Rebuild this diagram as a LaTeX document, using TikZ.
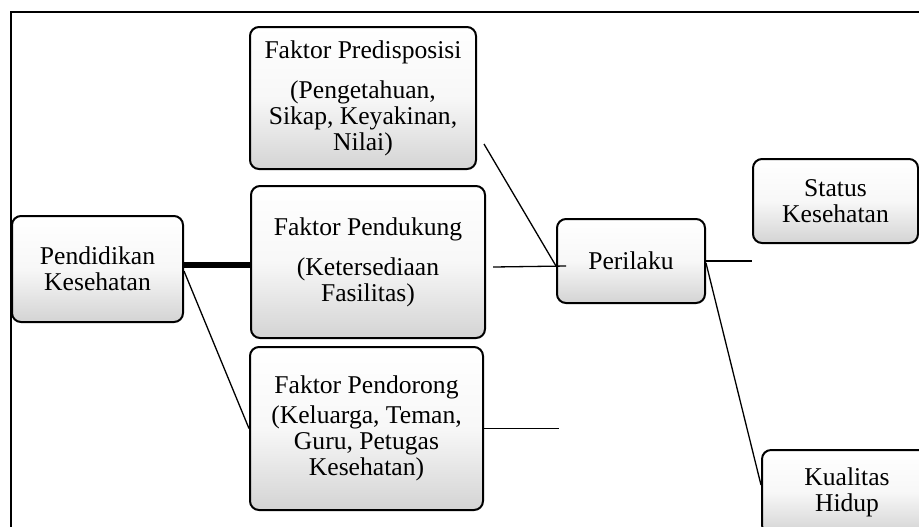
\documentclass[tikz,border=0pt]{standalone}
\usepackage{fontspec}
\setmainfont{Liberation Serif}

\begin{document}
\begin{tikzpicture}[x=0.5pt,y=-0.5pt]
\tikzstyle{box}=[rectangle, rounded corners=4.5pt, line width=1pt, draw=black, top color=white, bottom color=black!17, middle color=black!3, align=center, inner sep=0pt, font=\fontsize{12.8}{13}\selectfont]
\tikzstyle{connect}=[line width=0.65pt]
  \useasboundingbox (0,0) rectangle (919,526);
  \clip (0,0) rectangle (919,526);
  \draw[line width=0.8pt] (11,540) -- (11,12) -- (919,12);
  \node[box, minimum width=85.5pt, minimum height=53pt] (pendidikan) at (97.5,269) {Pendidikan\\Kesehatan};
  \node[box, minimum width=113pt, minimum height=71pt] (predisposisi) at (363,98) {Faktor Predisposisi\\[7pt](Pengetahuan,\\Sikap, Keyakinan,\\Nilai)};
  \node[box, minimum width=117pt, minimum height=76pt] (pendukung) at (368,262) {Faktor Pendukung\\[7pt](Ketersediaan\\Fasilitas)};
  \node[box, minimum width=116.5pt, minimum height=81.5pt] (pendorong) at (366.5,428.5) {Faktor Pendorong\\[2pt](Keluarga, Teman,\\Guru, Petugas\\Kesehatan)};
  \node[box, minimum width=74pt, minimum height=42pt] (perilaku) at (631,261) {Perilaku};
  \node[box, minimum width=82.5pt, minimum height=42pt] (status) at (835.5,201) {Status\\Kesehatan};
  \node[box, minimum width=85pt, minimum height=42pt] (kualitas) at (847,492) {Kualitas\\Hidup};
  \coordinate (dorongend) at ([xshift=37.5pt]pendorong.east);
  \draw[line width=3pt] ([yshift=2pt]pendidikan.east) -- ([yshift=2pt]pendidikan.east -| pendukung.west);
  \draw[connect] ([yshift=-1pt]pendidikan.east) -- (pendorong.west);
  \draw[connect] ([xshift=3.5pt,yshift=-23pt]predisposisi.east) -- ([yshift=-2.5pt]perilaku.west);
  \draw[connect] ([xshift=3.5pt,yshift=-2.5pt]pendukung.east) -- ([xshift=5pt,yshift=-2.5pt]perilaku.west);
  \draw[connect] (pendorong.east) -- (dorongend);
  \draw[connect] (perilaku.east) -- (perilaku.east -| status.west);
  \draw[connect] ([yshift=-1pt]perilaku.east) -- ([yshift=3.5pt]kualitas.west);
\end{tikzpicture}
\end{document}
